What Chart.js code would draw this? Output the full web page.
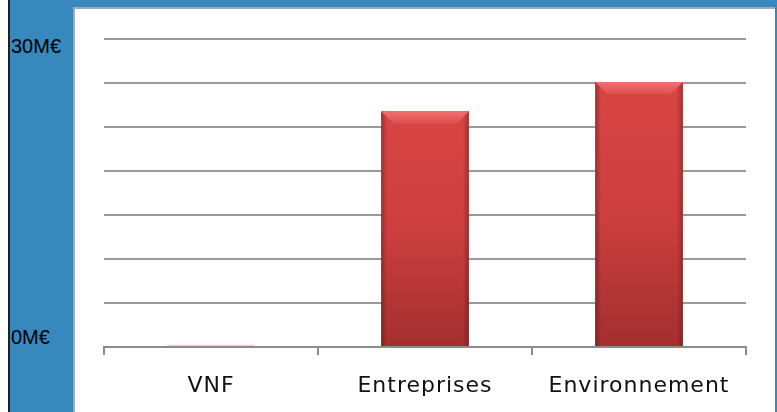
<!DOCTYPE html>
<html>
<head>
<meta charset="utf-8">
<script src="https://cdn.jsdelivr.net/npm/chart.js@4.4.1/dist/chart.umd.min.js"></script>
<style>
  html, body { margin: 0; padding: 0; background: #ffffff; }
  #page { position: relative; width: 777px; height: 412px; overflow: hidden; background: #ffffff; }
  #blackline { position: absolute; left: 8px; top: 0; width: 2px; height: 412px; background: #231f1e; }
  #blue { position: absolute; left: 10px; top: 0; width: 767px; height: 412px; background: #3788bd; }
  #panel { position: absolute; left: 73px; top: 7px; width: 700px; height: 405px; background: #ffffff;
           border-left: 2px solid #a9a9a9; border-top: 2px solid #a9a9a9; }
  #chartwrap { position: absolute; left: 75px; top: 9px; width: 700px; height: 403px; }
  .ylab { position: absolute; left: 11px; font-family: 'Liberation Sans', Arial, sans-serif; font-size: 20px;
          color: #000; line-height: 20px; }
</style>
</head>
<body>
<div id="page">
  <div id="blackline"></div>
  <div id="blue"></div>
  <div id="panel"></div>
  <div class="ylab" id="ytop" style="top:36px;">30M€</div>
  <div class="ylab" id="ybot" style="top:327px;">0M€</div>
  <div id="chartwrap"><canvas id="c" width="700" height="403"></canvas></div>
</div>
<script>
const categories = ['VNF', 'Entreprises', 'Environnement'];
const values = [0.25, 26.8, 30.1];
const yMin = 0;
const yMax = 35;
const yStep = 5;

function barFill(ctx) {
  const chart = ctx.chart;
  if (!chart.chartArea || !chart.scales.y) return '#cc3f3f';
  const ys = chart.scales.y;
  const top = ys.getPixelForValue(ctx.raw);
  const bot = ys.getPixelForValue(0);
  if (bot - top < 4) return 'rgba(230,150,150,0.45)';
  const g = chart.ctx.createLinearGradient(0, top, 0, bot);
  g.addColorStop(0, '#d94545');
  g.addColorStop(0.5, '#cd3f3f');
  g.addColorStop(1, '#a32f2f');
  return g;
}

const bevelPlugin = {
  id: 'bevel',
  afterDatasetsDraw(chart) {
    const c = chart.ctx;
    const meta = chart.getDatasetMeta(0);
    meta.data.forEach(el => {
      const p = el.getProps(['x', 'y', 'base', 'width'], true);
      const h = p.base - p.y;
      if (h < 20) return;
      const l = p.x - p.width / 2, r = p.x + p.width / 2, t = p.y;
      const bv = 12;
      c.save();
      let gl = c.createLinearGradient(l, 0, l + 6, 0);
      gl.addColorStop(0, 'rgba(90,20,20,0.45)');
      gl.addColorStop(1, 'rgba(90,20,20,0)');
      c.fillStyle = gl; c.fillRect(l, t, 6, h);
      let gr = c.createLinearGradient(r - 6, 0, r, 0);
      gr.addColorStop(0, 'rgba(90,20,20,0)');
      gr.addColorStop(1, 'rgba(90,20,20,0.45)');
      c.fillStyle = gr; c.fillRect(r - 6, t, 6, h);
      c.beginPath();
      c.moveTo(l, t); c.lineTo(r, t); c.lineTo(r - bv, t + bv); c.lineTo(l + bv, t + bv); c.closePath();
      let gt = c.createLinearGradient(0, t, 0, t + bv);
      gt.addColorStop(0, '#f07070');
      gt.addColorStop(1, '#df5050');
      c.fillStyle = gt; c.fill();
      c.restore();
    });
  }
};

const spacingPlugin = {
  id: 'spacing',
  beforeDraw(chart) { chart.ctx.letterSpacing = '1px'; }
};

new Chart(document.getElementById('c'), {
  type: 'bar',
  data: {
    labels: categories,
    datasets: [{
      data: values,
      backgroundColor: barFill,
      borderWidth: 0,
      barPercentage: 0.41,
      categoryPercentage: 1.0
    }]
  },
  options: {
    responsive: false,
    animation: false,
    devicePixelRatio: 1,
    layout: { padding: { left: 29, right: 29, top: 30, bottom: 0 } },
    plugins: { legend: { display: false }, tooltip: { enabled: false } },
    scales: {
      x: {
        offset: true,
        grid: { display: true, drawOnChartArea: false, drawTicks: true, tickLength: 8, color: '#8c8c8c', lineWidth: 2, offset: true },
        border: { display: true, color: '#8c8c8c', width: 2 },
        ticks: { font: { family: 'DejaVu Sans', size: 22 }, color: '#111111', padding: 18, maxRotation: 0, minRotation: 0, autoSkip: false },
        afterFit: s => { s.height = 65; }
      },
      y: {
        min: yMin, max: yMax,
        ticks: { stepSize: yStep, display: false },
        grid: { color: '#999999', lineWidth: 2, drawTicks: false },
        border: { display: false },
        afterFit: s => { s.width = 0; }
      }
    }
  },
  plugins: [bevelPlugin, spacingPlugin]
});
</script>
</body>
</html>
